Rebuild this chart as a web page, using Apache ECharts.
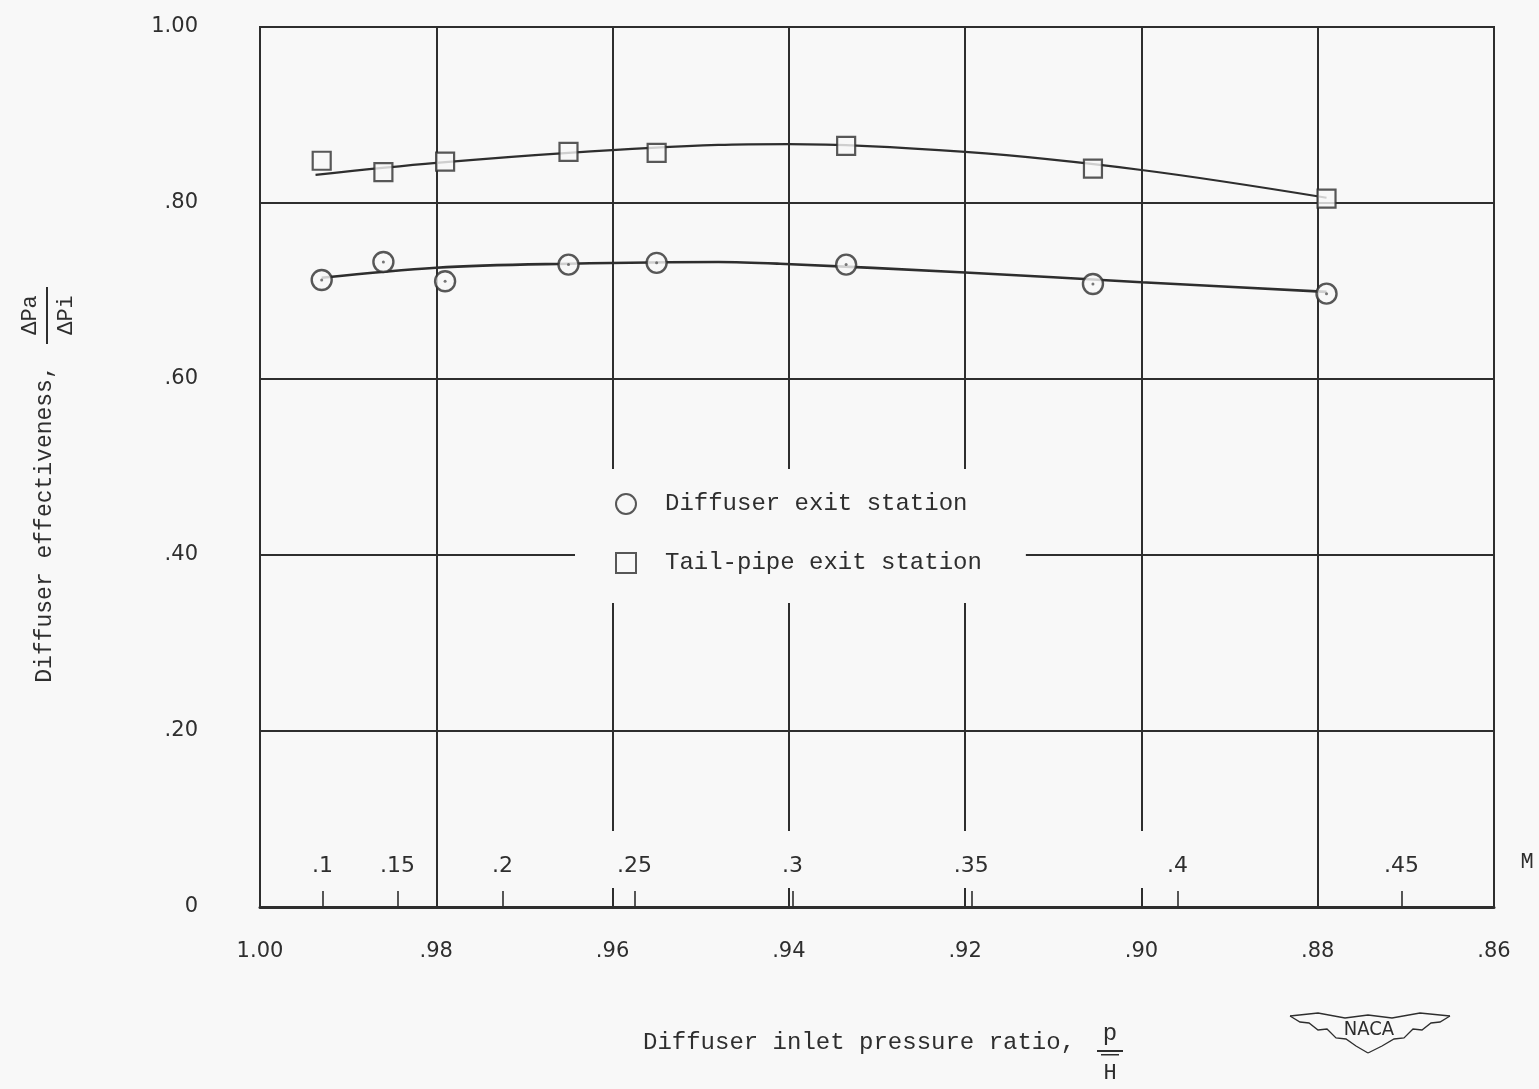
<!DOCTYPE html>
<html>
<head>
<meta charset="utf-8">
<script src="https://cdn.jsdelivr.net/npm/echarts@6/dist/echarts.min.js"></script>
<style>
html,body{margin:0;padding:0;background:#f8f8f8;}
#chart{width:1539px;height:1089px;}
</style>
</head>
<body>
<div id="chart"></div>
<script>
// ---- data ----
const pressureRatio = [0.993, 0.986, 0.979, 0.965, 0.955, 0.9335, 0.9055, 0.879];
const diffuserExit  = [0.7125, 0.733, 0.711, 0.730, 0.732, 0.730, 0.708, 0.697];
const tailPipeExit  = [0.848, 0.835, 0.847, 0.858, 0.857, 0.865, 0.839, 0.805];

// faired curves
const fairDiffuserX = [0.993, 0.980, 0.965, 0.948, 0.941, 0.920, 0.900, 0.879];
const fairDiffuserY = [0.715, 0.7265, 0.731, 0.733, 0.731, 0.721, 0.710, 0.699];
const fairTailX     = [0.9937, 0.980, 0.965, 0.948, 0.940, 0.920, 0.900, 0.879];
const fairTailY     = [0.832, 0.8455, 0.857, 0.866, 0.867, 0.858, 0.8375, 0.806];

// Mach number scale (positions on the pressure-ratio axis)
const machLabels    = ['.1', '.15', '.2', '.25', '.3', '.35', '.4', '.45'];
const machPositions = [0.9929, 0.9844, 0.9725, 0.9575, 0.9396, 0.9193, 0.8959, 0.8705];

// gridlines interrupted by the Mach labels
const brokenGridX = [0.96, 0.94, 0.92, 0.90];

const INK = '#2e2e2e';
const BG = '#f8f8f8';
const MONO = '"Liberation Mono", "DejaVu Sans Mono", monospace';
const LETTER = '"DejaVu Sans", "Liberation Sans", sans-serif';

const zip = (xs, ys) => xs.map((x, i) => [x, ys[i]]);

const chart = echarts.init(document.getElementById('chart'), null, {renderer: 'canvas'});

const option = {
  backgroundColor: BG,
  animation: false,
  grid: {left: 260, right: 45, top: 27, bottom: 182, show: true, borderColor: INK, borderWidth: 2, backgroundColor: 'transparent'},
  legend: {
    orient: 'vertical', left: 575, top: 469,
    data: ['Diffuser exit station', 'Tail-pipe exit station'],
    backgroundColor: BG,
    padding: [23, 44, 28, 40],
    itemWidth: 20, itemHeight: 20, itemGap: 35,
    textStyle: {fontFamily: MONO, fontSize: 24, color: INK, padding: [0, 0, 0, 24]}
  },
  xAxis: [
    {
      type: 'value', min: 0.86, max: 1.00, interval: 0.02, inverse: true, z: 0,
      axisLine: {show: true, onZero: false, lineStyle: {color: INK, width: 3}},
      axisTick: {show: false},
      splitLine: {show: true, lineStyle: {color: INK, width: 2}},
      axisLabel: {
        margin: 34, fontFamily: LETTER, fontSize: 21, color: INK,
        formatter: v => v > 0.999 ? '1.00' : v.toFixed(2).replace(/^0/, '')
      }
    },
    {
      type: 'value', min: 0.86, max: 1.00, inverse: true, position: 'bottom', gridIndex: 0, z: 5,
      axisLine: {show: false},
      splitLine: {show: false},
      axisTick: {show: true, inside: true, length: 16, customValues: machPositions, lineStyle: {color: INK, width: 1.6}},
      axisLabel: {
        show: true, inside: true, margin: 30, customValues: machPositions,
        fontFamily: LETTER, fontSize: 22, color: INK,
        formatter: v => {
          const i = machPositions.findIndex(p => Math.abs(p - v) < 1e-6);
          return i >= 0 ? machLabels[i] : '';
        }
      }
    }
  ],
  yAxis: {
    type: 'value', min: 0, max: 1, interval: 0.2, z: 0,
    axisLine: {show: true, lineStyle: {color: INK, width: 2}},
    axisTick: {show: false},
    splitLine: {show: true, lineStyle: {color: INK, width: 2}},
    axisLabel: {
      margin: 62, fontFamily: LETTER, fontSize: 21, color: INK,
      formatter: v => v === 0 ? '0' : (v > 0.999 ? '1.00' : v.toFixed(2).replace(/^0/, ''))
    }
  },
  series: [
    {
      name: 'fair-diffuser', type: 'line', smooth: 0.35, symbol: 'none', z: 3,
      lineStyle: {color: INK, width: 2.6}, data: zip(fairDiffuserX, fairDiffuserY)
    },
    {
      name: 'fair-tail', type: 'line', smooth: 0.35, symbol: 'none', z: 3,
      lineStyle: {color: INK, width: 2.2}, data: zip(fairTailX, fairTailY)
    },
    {
      name: 'Diffuser exit station', type: 'scatter', symbol: 'circle', symbolSize: 20, z: 4,
      itemStyle: {color: BG, borderColor: INK, borderWidth: 2.4},
      data: zip(pressureRatio, diffuserExit)
    },
    {
      name: 'dots', type: 'scatter', symbol: 'circle', symbolSize: 3, z: 5,
      itemStyle: {color: '#555'}, data: zip(pressureRatio, diffuserExit)
    },
    {
      name: 'Tail-pipe exit station', type: 'scatter', symbol: 'rect', symbolSize: 18, z: 4,
      itemStyle: {color: BG, borderColor: INK, borderWidth: 2.2},
      data: zip(pressureRatio, tailPipeExit)
    }
  ]
};

chart.setOption(option);

// decorations and gaps
const gaps = brokenGridX.map((v, i) => {
  const px = chart.convertToPixel({xAxisIndex: 0}, v);
  return {type: 'rect', id: 'gap' + i, z: 1, silent: true,
    shape: {x: px - 4, y: 831, width: 8, height: 57}, style: {fill: BG}};
});

const rot = Math.PI / 2;
const graphics = gaps.concat([
  // y axis title
  {type: 'text', x: 45, y: 524, rotation: rot, z: 10,
    style: {text: 'Diffuser effectiveness,', font: '23px ' + MONO, fill: INK, textAlign: 'center', textVerticalAlign: 'middle'}},
  {type: 'text', x: 30, y: 315, rotation: rot, z: 10,
    style: {text: 'ΔPa', font: '22px ' + MONO, fill: INK, textAlign: 'center', textVerticalAlign: 'middle'}},
  {type: 'rect', z: 10, shape: {x: 46, y: 287, width: 2, height: 57}, style: {fill: INK}},
  {type: 'text', x: 66, y: 315, rotation: rot, z: 10,
    style: {text: 'ΔPi', font: '22px ' + MONO, fill: INK, textAlign: 'center', textVerticalAlign: 'middle'}},
  // x axis title
  {type: 'text', x: 643, y: 1043, z: 10,
    style: {text: 'Diffuser inlet pressure ratio,', font: '24px ' + MONO, fill: INK, textAlign: 'left', textVerticalAlign: 'middle'}},
  {type: 'text', x: 1110, y: 1034, z: 10,
    style: {text: 'p', font: '24px ' + MONO, fill: INK, textAlign: 'center', textVerticalAlign: 'middle'}},
  {type: 'rect', z: 10, shape: {x: 1097, y: 1050, width: 26, height: 2}, style: {fill: INK}},
  {type: 'rect', z: 10, shape: {x: 1101, y: 1054, width: 18, height: 1.5}, style: {fill: INK}},
  {type: 'text', x: 1110, y: 1073, z: 10,
    style: {text: 'H', font: '22px ' + MONO, fill: INK, textAlign: 'center', textVerticalAlign: 'middle'}},
  // Mach label
  {type: 'text', x: 1527, y: 862, z: 10,
    style: {text: 'M', font: '22px ' + MONO, fill: INK, textAlign: 'center', textVerticalAlign: 'middle'}},
  // NACA emblem
  {type: 'polyline', z: 10, shape: {points: [[1290,1016],[1318,1013],[1345,1018],[1368,1015],[1392,1018],[1420,1013],[1450,1016]]},
    style: {stroke: INK, lineWidth: 1.3, fill: 'none'}},
  {type: 'polyline', z: 10, shape: {points: [[1290,1016],[1300,1022],[1309,1023],[1318,1030],[1327,1029],[1336,1038],[1346,1039],[1356,1046],[1368,1053]]},
    style: {stroke: INK, lineWidth: 1.3, fill: 'none'}},
  {type: 'polyline', z: 10, shape: {points: [[1450,1016],[1440,1022],[1431,1023],[1422,1030],[1413,1029],[1404,1038],[1394,1039],[1382,1046],[1368,1053]]},
    style: {stroke: INK, lineWidth: 1.3, fill: 'none'}},
  {type: 'text', x: 1369, y: 1030, z: 10,
    style: {text: 'NACA', font: '20px "DejaVu Sans Condensed", "DejaVu Sans", sans-serif', fill: INK, textAlign: 'center', textVerticalAlign: 'middle'}}
]);

chart.setOption({graphic: graphics});
</script>
</body>
</html>
